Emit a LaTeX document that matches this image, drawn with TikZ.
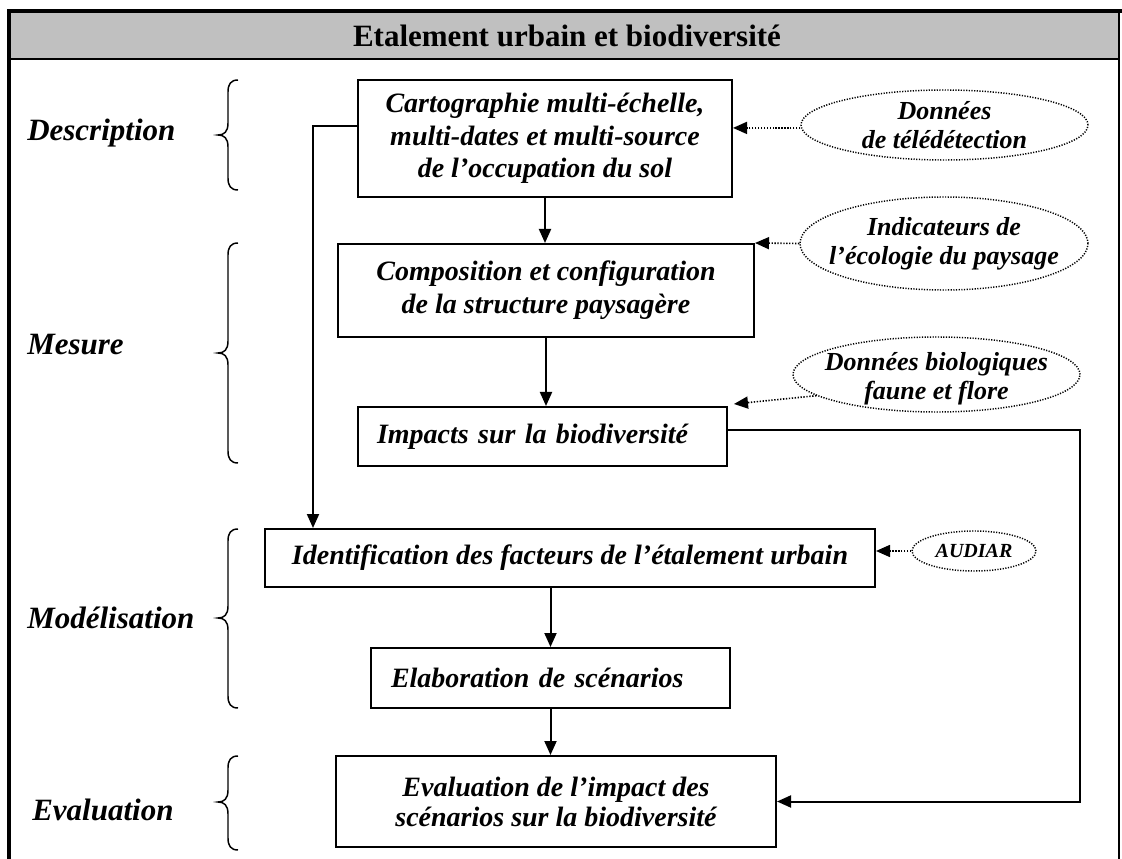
\documentclass[tikz,border=0pt]{standalone}
\usepackage{fontspec}
\setmainfont{Liberation Serif}
\usetikzlibrary{arrows.meta,shapes.geometric,calc}
\definecolor{hdr}{RGB}{192,192,192}
\newcommand{\mybrace}[4]{%
  \draw[brc] (#1+10,#2) .. controls (#1+3,#2) and (#1,#2+4) .. (#1,#2+12)
    -- (#1,#3-12) .. controls (#1,#3-3) and (#1-4,#3) .. (#1-10,#3)
    .. controls (#1-4,#3) and (#1,#3+3) .. (#1,#3+12)
    -- (#1,#4-12) .. controls (#1,#4-4) and (#1+3,#4) .. (#1+10,#4);}
\begin{document}
\begin{tikzpicture}[x=0.75pt,y=-0.75pt,
  box/.style={draw,line width=1.5pt,rectangle,inner sep=0pt,align=center,
    font=\fontsize{21}{24.5}\selectfont\bfseries\itshape},
  ell/.style={draw,ellipse,line width=1.1pt,dash pattern=on 0.9pt off 1.1pt,inner sep=0pt},
  etxt/.style={align=center,inner sep=0pt,font=\fontsize{19.5}{22}\selectfont\bfseries\itshape},
  lbl/.style={anchor=west,inner sep=0pt,font=\fontsize{23.25}{26}\selectfont\bfseries\itshape},
  arr/.style={line width=1.5pt,-{Triangle[length=10.5pt,width=9pt]}},
  darr/.style={line width=1.2pt,dash pattern=on 1pt off 1.2pt,-{Triangle[length=10.5pt,width=9pt]}},
  brc/.style={line width=1.1pt},
]
\useasboundingbox (0,0) rectangle (1122,859);
% frame and header
\fill[hdr] (9,11) rectangle (1119,59);
\draw[line width=1.5pt] (9,59) -- (1119,59);
\draw[line width=3pt] (7.5,11) -- (1122,11);
\draw[line width=3pt] (9,9.5) -- (9,859);
\draw[line width=1.5pt] (1119,11) -- (1119,859);
\node[font=\fontsize{23.25}{28}\selectfont\bfseries] (title) at (567,36) {Etalement urbain et biodiversité};
% labels
\node[lbl] (lD) at (27,133) {Description};
\node[lbl] (lM) at (27,345) {Mesure};
\node[lbl] (lMo) at (27,618) {Modélisation};
\node[lbl] (lE) at (32,810) {Evaluation};
% braces
\mybrace{228}{80}{135}{190}
\mybrace{228}{243}{353}{463}
\mybrace{228}{529}{618}{708}
\mybrace{228}{756}{802}{850}
% boxes
\node[box,minimum width=280.5pt,minimum height=87.75pt] (b1) at (545,138.5)
  {Cartographie multi-échelle,\\multi-dates et multi-source\\de l’occupation du sol};
\node[box,minimum width=312pt,minimum height=69.75pt,font=\fontsize{21}{24.75}\selectfont\bfseries\itshape] (b2) at (546,290.5)
  {Composition et configuration\\de la structure paysagère};
\node[box,minimum width=276.75pt,minimum height=44.25pt,inner xsep=14.25pt,text width=248.25pt,align=left] (b3) at (542.5,436.5)
  {Impacts sur la biodiversité};
\node[box,minimum width=457.5pt,minimum height=43.5pt] (b4) at (570,558)
  {Identification des facteurs de l’étalement urbain};
\node[box,minimum width=269.25pt,minimum height=45pt,inner xsep=15pt,text width=239.25pt,align=left] (b5) at (550.5,678)
  {Elaboration de scénarios};
\node[box,minimum width=330pt,minimum height=68.25pt,font=\fontsize{21}{22.5}\selectfont\bfseries\itshape] (b6) at (556,801.5)
  {Evaluation de l’impact des\\scénarios sur la biodiversité};
% ellipses
\node[ell,minimum width=215.25pt,minimum height=52.5pt,label={[etxt]center:{Données\\de télédétection}}] (e1) at (944.5,125) {};
\node[ell,minimum width=216pt,minimum height=69.75pt,label={[etxt]center:{Indicateurs de\\l’écologie du paysage}}] (e2) at (944,243.5) {};
\node[ell,minimum width=215.25pt,minimum height=56.25pt,label={[etxt,yshift=-3pt]center:{Données biologiques\\faune et flore}}] (e3) at (936.5,374.5) {};
\node[ell,minimum width=93pt,minimum height=30pt,label={[etxt,font=\fontsize{15}{18}\selectfont\bfseries\itshape]center:{AUDIAR}}] (e4) at (974,551) {};
% coordinates for routing
\coordinate (lft) at (313,0);
\coordinate (rt) at (1080,0);
% solid connectors
\draw[arr] (b1.south) -- (b1.south |- b2.north);
\draw[arr] (b2.south) -- (b2.south |- b3.north);
\draw[arr] (b5.north |- b4.south) -- (b5.north);
\draw[arr] (b5.south) -- (b5.south |- b6.north);
\draw[arr] ([yshift=9.4pt]b1.west) -- ([yshift=9.4pt]b1.west -| lft) -- (lft |- b4.north);
\draw[arr] ([yshift=5pt]b3.east) -- ([yshift=5pt]b3.east -| rt) -- (rt |- b6.east) -- (b6.east);
% dotted connectors
\draw[darr] ([yshift=-2.2pt]e1.west) -- ([yshift=-2.2pt]e1.west -| b1.east);
\draw[darr] (e2.west) -- (b2.north east);
\draw[darr] (e3.190) -- ([xshift=4.5pt,yshift=1.5pt]b3.north east);
\draw[darr] (e4.west) -- (e4.west -| b4.east);
\end{tikzpicture}
\end{document}
